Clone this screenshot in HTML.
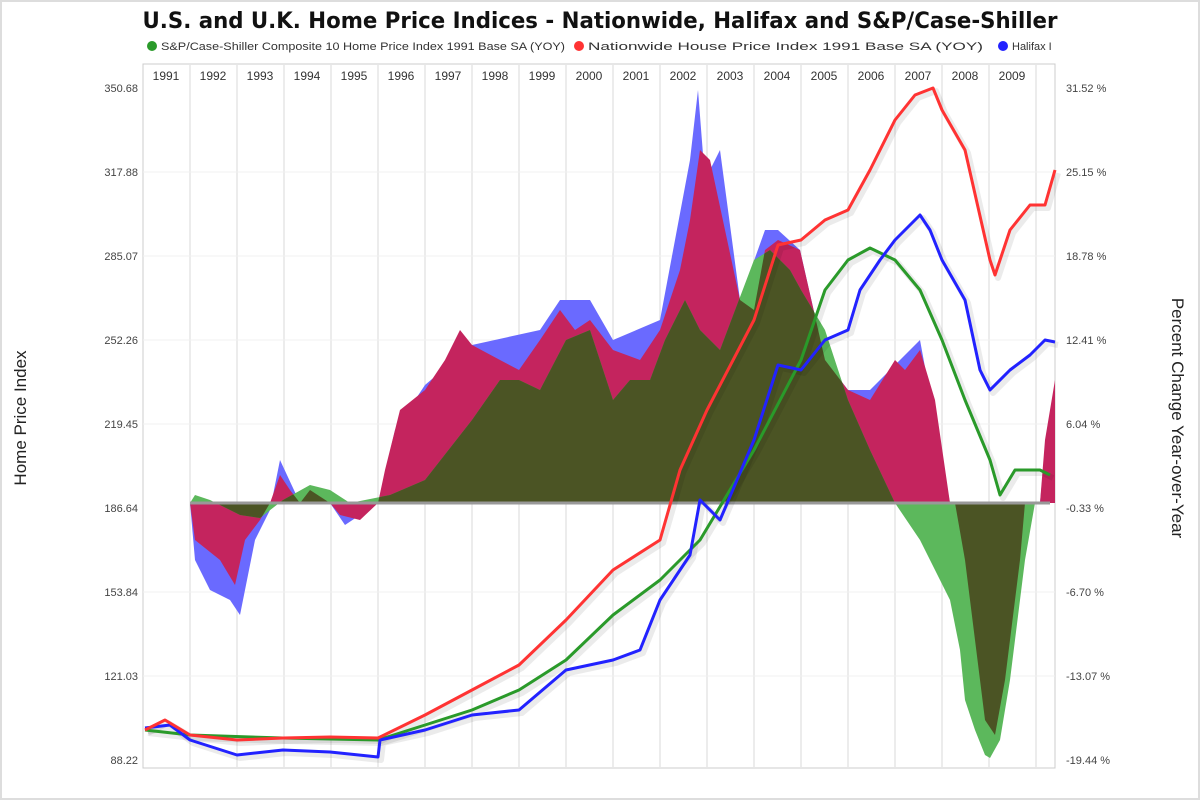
<!DOCTYPE html>
<html><head><meta charset="utf-8"><style>
body{margin:0;background:#fff;}
svg{display:block;font-family:"Liberation Sans",sans-serif;}
</style></head><body>
<svg width="1200" height="800" viewBox="0 0 1200 800">
<rect x="0" y="0" width="1200" height="800" fill="#fff"/>
<rect x="1" y="1" width="1198" height="798" fill="none" stroke="#ddd" stroke-width="2"/>
<text x="600" y="28" text-anchor="middle" font-size="22" font-weight="bold" fill="#111" font-family="DejaVu Sans Condensed, DejaVu Sans, sans-serif" textLength="915" lengthAdjust="spacingAndGlyphs">U.S. and U.K. Home Price Indices - Nationwide, Halifax and S&amp;P/Case-Shiller</text>
<g font-size="11" fill="#333">
<circle cx="152" cy="46" r="5" fill="#2a9a2a"/><text x="161" y="50" textLength="404" lengthAdjust="spacingAndGlyphs">S&amp;P/Case-Shiller Composite 10 Home Price Index 1991 Base SA (YOY)</text>
<circle cx="579" cy="46" r="5" fill="#f33"/><text x="588" y="50" textLength="395" lengthAdjust="spacingAndGlyphs">Nationwide House Price Index 1991 Base SA (YOY)</text>
<circle cx="1003" cy="46" r="5" fill="#22f"/><text x="1012" y="50">Halifax I</text>
</g>
<rect x="143" y="64" width="912" height="704" fill="#fff" stroke="#ccc"/>
<g stroke="#e6e6e6" stroke-width="1.5">
<line x1="190" y1="64" x2="190" y2="768"/><line x1="237" y1="64" x2="237" y2="768"/><line x1="284" y1="64" x2="284" y2="768"/><line x1="331" y1="64" x2="331" y2="768"/><line x1="378" y1="64" x2="378" y2="768"/><line x1="425" y1="64" x2="425" y2="768"/><line x1="472" y1="64" x2="472" y2="768"/><line x1="519" y1="64" x2="519" y2="768"/><line x1="566" y1="64" x2="566" y2="768"/><line x1="613" y1="64" x2="613" y2="768"/><line x1="660" y1="64" x2="660" y2="768"/><line x1="707" y1="64" x2="707" y2="768"/><line x1="754" y1="64" x2="754" y2="768"/><line x1="801" y1="64" x2="801" y2="768"/><line x1="848" y1="64" x2="848" y2="768"/><line x1="895" y1="64" x2="895" y2="768"/><line x1="942" y1="64" x2="942" y2="768"/><line x1="989" y1="64" x2="989" y2="768"/><line x1="1036" y1="64" x2="1036" y2="768"/>
</g>
<g stroke="#f0f0f0"><line x1="143" y1="172" x2="1055" y2="172"/><line x1="143" y1="256" x2="1055" y2="256"/><line x1="143" y1="340" x2="1055" y2="340"/><line x1="143" y1="424" x2="1055" y2="424"/><line x1="143" y1="592" x2="1055" y2="592"/><line x1="143" y1="676" x2="1055" y2="676"/></g>
<g font-size="12" fill="#333" text-anchor="middle">
<text x="166" y="80">1991</text><text x="213" y="80">1992</text><text x="260" y="80">1993</text><text x="307" y="80">1994</text><text x="354" y="80">1995</text><text x="401" y="80">1996</text><text x="448" y="80">1997</text><text x="495" y="80">1998</text><text x="542" y="80">1999</text><text x="589" y="80">2000</text><text x="636" y="80">2001</text><text x="683" y="80">2002</text><text x="730" y="80">2003</text><text x="777" y="80">2004</text><text x="824" y="80">2005</text><text x="871" y="80">2006</text><text x="918" y="80">2007</text><text x="965" y="80">2008</text><text x="1012" y="80">2009</text>
</g>
<g font-size="11" fill="#444" text-anchor="end">
<text x="138" y="92">350.68</text><text x="138" y="176">317.88</text><text x="138" y="260">285.07</text><text x="138" y="344">252.26</text><text x="138" y="428">219.45</text><text x="138" y="512">186.64</text><text x="138" y="596">153.84</text><text x="138" y="680">121.03</text><text x="138" y="764">88.22</text>
</g>
<g font-size="11" fill="#444">
<text x="1066" y="92">31.52 %</text><text x="1066" y="176">25.15 %</text><text x="1066" y="260">18.78 %</text><text x="1066" y="344">12.41 %</text><text x="1066" y="428">6.04 %</text><text x="1066" y="512">-0.33 %</text><text x="1066" y="596">-6.70 %</text><text x="1066" y="680">-13.07 %</text><text x="1066" y="764">-19.44 %</text>
</g>
<text transform="translate(26,418) rotate(-90)" text-anchor="middle" font-size="17" fill="#222">Home Price Index</text>
<text transform="translate(1172,418) rotate(90)" text-anchor="middle" font-size="17" fill="#222">Percent Change Year-over-Year</text>
<defs>
<clipPath id="redc"><polygon points="190,503 195,540 220,560 235,585 245,540 260,520 270,503 280,475 290,490 300,503 310,490 330,503 340,515 360,520 378,503 385,470 400,410 425,390 445,360 460,330 472,345 500,360 519,370 540,340 560,310 575,330 590,320 613,350 640,360 660,330 680,270 690,220 700,150 710,160 725,230 740,300 754,310 765,250 778,240 800,250 825,360 848,390 870,400 895,360 905,370 920,350 935,400 950,503 955,503 965,560 975,640 985,720 995,735 1005,680 1020,560 1025,503 1040,503 1045,440 1055,380 1055,503"/></clipPath>
</defs>
<polygon fill="#6a6aff" points="190,503 195,560 210,590 230,600 240,615 255,540 270,510 280,460 300,503 330,503 345,525 378,503 395,430 425,385 472,345 540,330 560,300 590,300 613,340 660,320 690,160 698,90 705,180 720,150 740,300 765,230 778,230 800,250 825,360 848,390 870,390 920,340 950,503 1040,503 1045,450 1055,400 1055,503"/>
<polygon fill="#c4245e" points="190,503 195,540 220,560 235,585 245,540 260,520 270,503 280,475 290,490 300,503 310,490 330,503 340,515 360,520 378,503 385,470 400,410 425,390 445,360 460,330 472,345 500,360 519,370 540,340 560,310 575,330 590,320 613,350 640,360 660,330 680,270 690,220 700,150 710,160 725,230 740,300 754,310 765,250 778,240 800,250 825,360 848,390 870,400 895,360 905,370 920,350 935,400 950,503 955,503 965,560 975,640 985,720 995,735 1005,680 1020,560 1025,503 1040,503 1045,440 1055,380 1055,503"/>
<polygon fill="#5cb85c" points="190,503 195,495 210,500 240,515 260,518 283,500 310,485 330,490 350,503 390,495 425,480 472,420 500,380 519,380 540,390 566,340 590,330 613,400 630,380 650,380 665,340 685,300 700,330 720,350 754,260 770,250 790,270 801,290 825,330 848,400 870,450 895,503 920,540 935,570 950,600 960,650 965,700 975,730 985,755 990,758 1000,740 1010,680 1025,560 1035,503 1045,503"/>
<polygon clip-path="url(#redc)" fill="#4b5424" points="190,503 195,495 210,500 240,515 260,518 283,500 310,485 330,490 350,503 390,495 425,480 472,420 500,380 519,380 540,390 566,340 590,330 613,400 630,380 650,380 665,340 685,300 700,330 720,350 754,260 770,250 790,270 801,290 825,330 848,400 870,450 895,503 920,540 935,570 950,600 960,650 965,700 975,730 985,755 990,758 1000,740 1010,680 1025,560 1035,503 1045,503"/>
<line x1="190" y1="503" x2="1050" y2="503" stroke="#999" stroke-width="3"/>
<g fill="none" stroke-width="6" stroke-linejoin="round" stroke="#000" stroke-opacity="0.08" transform="translate(3,3)">
<polyline points="145,730 190,735 283,738 378,740 425,725 472,710 519,690 566,660 613,615 660,580 700,540 754,450 801,360 825,290 848,260 870,248 895,260 920,290 942,340 965,400 990,460 1000,495 1015,470 1040,470 1050,475"/>
<polyline points="145,728 170,725 190,740 237,755 283,750 330,752 378,757 380,740 425,730 472,715 519,710 566,670 613,660 640,650 660,600 690,555 700,500 720,520 754,440 778,365 801,370 825,340 848,330 860,290 880,260 895,240 920,215 930,230 942,260 965,300 980,370 990,390 1010,370 1030,355 1045,340 1055,342"/>
<polyline points="145,730 165,720 190,735 237,740 283,738 330,737 378,738 425,715 472,690 519,665 566,620 613,570 660,540 680,470 707,410 754,320 778,245 801,240 825,220 848,210 870,170 895,120 915,95 933,88 942,110 965,150 990,260 995,275 1010,230 1030,205 1045,205 1055,170"/>
</g>
<g fill="none" stroke-width="3" stroke-linejoin="round">
<polyline stroke="#2a9a2a" points="145,730 190,735 283,738 378,740 425,725 472,710 519,690 566,660 613,615 660,580 700,540 754,450 801,360 825,290 848,260 870,248 895,260 920,290 942,340 965,400 990,460 1000,495 1015,470 1040,470 1050,475"/>
<polyline stroke="#22f" points="145,728 170,725 190,740 237,755 283,750 330,752 378,757 380,740 425,730 472,715 519,710 566,670 613,660 640,650 660,600 690,555 700,500 720,520 754,440 778,365 801,370 825,340 848,330 860,290 880,260 895,240 920,215 930,230 942,260 965,300 980,370 990,390 1010,370 1030,355 1045,340 1055,342"/>
<polyline stroke="#f33" points="145,730 165,720 190,735 237,740 283,738 330,737 378,738 425,715 472,690 519,665 566,620 613,570 660,540 680,470 707,410 754,320 778,245 801,240 825,220 848,210 870,170 895,120 915,95 933,88 942,110 965,150 990,260 995,275 1010,230 1030,205 1045,205 1055,170"/>
</g>
</svg>
</body></html>
